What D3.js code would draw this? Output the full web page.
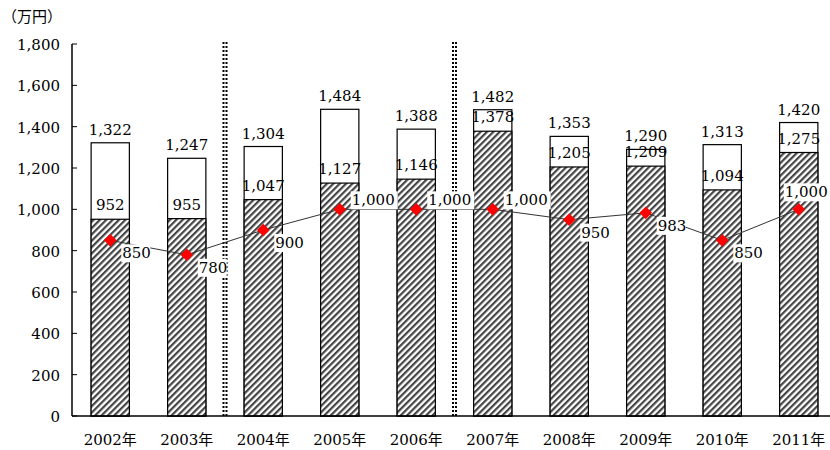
<!DOCTYPE html>
<html><head><meta charset="utf-8">
<script src="https://cdn.jsdelivr.net/npm/d3@7"></script>
<style>body{margin:0;background:#fff}text{font-family:"DejaVu Serif","Liberation Serif","Noto Sans CJK JP",serif}</style>
</head><body><svg width="830" height="450"></svg>
<script>
const years = ['2002年','2003年','2004年','2005年','2006年','2007年','2008年','2009年','2010年','2011年']
const totals = [1322,1247,1304,1484,1388,1482,1353,1290,1313,1420]
const hatched = [952,955,1047,1127,1146,1378,1205,1209,1094,1275]
const lineVals = [850,780,900,1000,1000,1000,950,983,850,1000]
const yTicks = [0,200,400,600,800,1000,1200,1400,1600,1800]
const dividers = [2,5]

const svg = d3.select('svg')
const fmt = d3.format(',')

const x = d3.scaleBand().domain(years).range([72,837]).paddingInner(0.5).paddingOuter(0.25)
const y = d3.scaleLinear().domain([0,1800]).range([416,44])

const defs = svg.append('defs')
const pat = defs.append('pattern').attr('id','hatch').attr('patternUnits','userSpaceOnUse')
  .attr('width',4.5).attr('height',4.5).attr('patternTransform','rotate(45)')
pat.append('rect').attr('width',4.5).attr('height',4.5).attr('fill','#fff')
pat.append('rect').attr('width',2.2).attr('height',4.5).attr('fill','#444')

// bars
svg.selectAll('rect.total').data(years).enter().append('rect')
  .attr('x', d => x(d)).attr('width', x.bandwidth())
  .attr('y', (d,i) => y(totals[i])).attr('height', (d,i) => y(0)-y(totals[i]))
  .attr('fill','#fff').attr('stroke','#000').attr('stroke-width',1.2)
svg.selectAll('rect.hat').data(years).enter().append('rect')
  .attr('x', d => x(d)).attr('width', x.bandwidth())
  .attr('y', (d,i) => y(hatched[i])).attr('height', (d,i) => y(0)-y(hatched[i]))
  .attr('fill','url(#hatch)').attr('stroke','#000').attr('stroke-width',1.2)

// dividers
const step = x.step()
dividers.forEach(k => {
  const xx = 72 + k*step
  ;[-1.5,1.5].forEach(o => svg.append('line').attr('x1',xx+o).attr('x2',xx+o).attr('y1',42).attr('y2',416)
    .attr('stroke','#000').attr('stroke-width',2).attr('stroke-dasharray','2,2'))
})

// axes
svg.append('line').attr('x1',72).attr('x2',830).attr('y1',416).attr('y2',416).attr('stroke','#000').attr('stroke-width',1.5)
svg.append('line').attr('x1',72).attr('x2',72).attr('y1',44).attr('y2',416).attr('stroke','#000').attr('stroke-width',1.5)
svg.selectAll('line.tk').data(yTicks).enter().append('line')
  .attr('x1',72).attr('x2',77).attr('y1',d=>y(d)).attr('y2',d=>y(d)).attr('stroke','#000')
svg.selectAll('text.yl').data(yTicks).enter().append('text')
  .attr('x',60).attr('y',d=>y(d)+6).attr('text-anchor','end').attr('font-size',15).text(d=>fmt(d))
svg.append('text').attr('x',2).attr('y',22).attr('font-size',15).text('（万円）')
svg.selectAll('text.xl').data(years).enter().append('text')
  .attr('x',d=>x(d)+x.bandwidth()/2).attr('y',445).attr('text-anchor','middle').attr('font-size',15).text(d=>d)

// bar labels
svg.selectAll('text.tot').data(years).enter().append('text')
  .attr('x',d=>x(d)+x.bandwidth()/2).attr('y',(i,j)=>y(totals[j])-8).attr('text-anchor','middle')
  .attr('font-size',15).text((d,i)=>fmt(totals[i]))
svg.selectAll('text.hl').data(years).enter().append('text')
  .attr('x',d=>x(d)+x.bandwidth()/2).attr('y',(d,i)=>y(hatched[i])-9).attr('text-anchor','middle')
  .attr('font-size',15).text((d,i)=>fmt(hatched[i]))

// line
const cx = d => x(d)+x.bandwidth()/2
svg.append('path').datum(years).attr('fill','none').attr('stroke','#333').attr('stroke-width',1)
  .attr('d', d3.line().x(cx).y((d,i)=>y(lineVals[i])))
svg.selectAll('path.mk').data(years).enter().append('path')
  .attr('d', d3.symbol(d3.symbolSquare, 80)())
  .attr('transform',(d,i)=>`translate(${cx(d)},${y(lineVals[i])}) rotate(45)`).attr('fill','#f00')
const last = years.length-1
const lg = svg.selectAll('g.ll').data(years).enter().append('g')
  .attr('transform',(d,i)=>`translate(${cx(d)+(i===last?-14:12)},${y(lineVals[i]) + (i===last?-12:lineVals[i]>=1000 ? -4 : 18)})`)
lg.append('rect').attr('x',-1).attr('y',-14).attr('height',18)
  .attr('width',(d,i)=>fmt(lineVals[i]).length*9+2).attr('fill','#fff')
lg.append('text').attr('font-size',15).text((d,i)=>fmt(lineVals[i]))
</script></body></html>
